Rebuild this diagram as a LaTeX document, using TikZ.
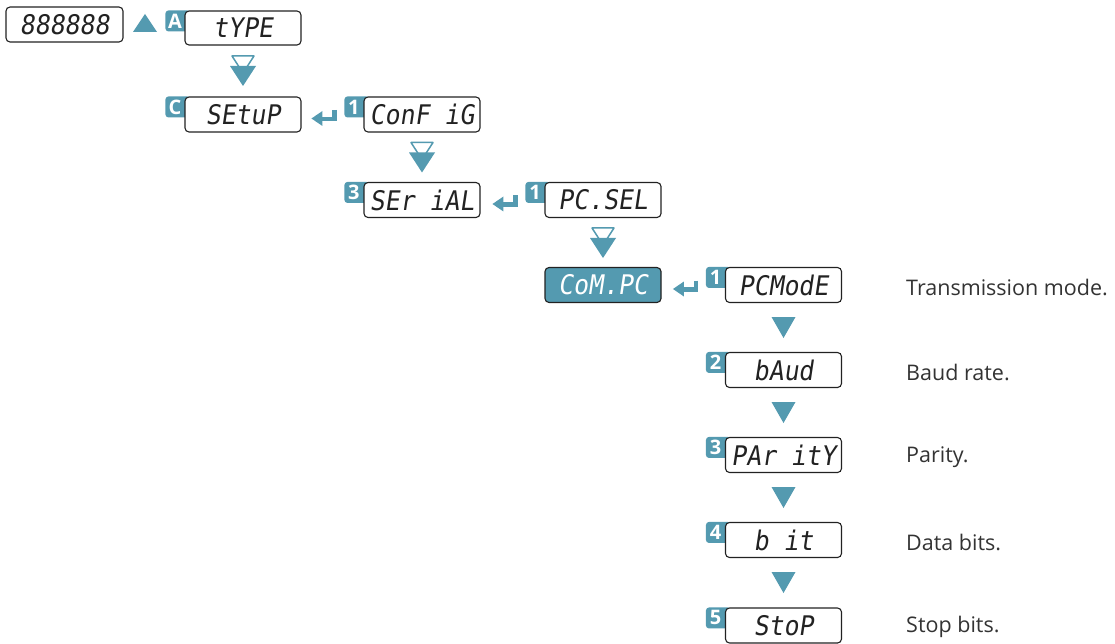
\documentclass[tikz,border=0pt]{standalone}
\usepackage{fontspec}
\setmainfont{Lato}
\newfontfamily\descfont{Open Sans}
\newfontfamily\badgefont{Open Sans}
\newfontfamily\segfont[FakeSlant=0.15,FakeStretch=0.92]{DejaVu Sans Mono}
\usetikzlibrary{calc,backgrounds}
\definecolor{accent}{RGB}{84,154,176}
\definecolor{ink}{RGB}{34,34,34}
\definecolor{lbl}{RGB}{51,51,51}
\newcommand\mybadge[3]{%
  \begin{scope}[on background layer]
    \fill[accent, rounded corners=3pt] ($(#3.north west)+(-19,0)$) rectangle ($(#3.north west)+(6,21)$);
  \end{scope}
  \node[badgetxt] (#1) at ($(#3.north west)+(-9.5,10.5)$) {#2};}
\newcommand\mydbl[1]{%
  \draw[accent, line width=1.5pt, fill=white, line join=round] ($(#1)+(-11,0)$) -- ($(#1)+(11,0)$) -- ($(#1)+(0,17)$) -- cycle;
  \fill[accent] ($(#1)+(-13,10)$) -- ($(#1)+(13,10)$) -- ($(#1)+(0,30)$) -- cycle;}
\newcommand\mytri[1]{%
  \fill[accent] ($(#1)+(-12,0)$) -- ($(#1)+(12,0)$) -- ($(#1)+(0,21)$) -- cycle;}
\newcommand\myret[1]{%
  \draw[accent, line width=4.5pt] ($(#1.west)+(-29,-4.5)$) -- ($(#1.west)+(-29,4.5)$) -- ($(#1.west)+(-44,4.5)$);
  \fill[accent] ($(#1.west)+(-52,4)$) -- ($(#1.west)+(-41,-3.5)$) -- ($(#1.west)+(-41,11.5)$) -- cycle;}
\begin{document}
\begin{tikzpicture}[x=1pt,y=-1pt,
  disp/.style={draw=ink, line width=1.1pt, rounded corners=4pt, fill=white,
    minimum width=116pt, minimum height=35pt, inner sep=0pt, text=ink,
    font=\segfont\fontsize{27}{27}\selectfont},
  dispsel/.style={disp, fill=accent, text=white},
  badgetxt/.style={text=white, inner sep=0pt, font=\badgefont\bfseries\fontsize{20}{20}\selectfont},
  desc/.style={anchor=west, text=lbl, inner sep=0pt, font=\descfont\fontsize{21.5}{21.5}\selectfont}]
\useasboundingbox (0,0) rectangle (1115,644);

\node[disp, minimum width=117pt] (d888) at (64.5,24.5) {888888};
\fill[accent] (145,14) -- (157,32) -- (133,32) -- cycle;
\node[disp, minimum height=34pt] (typ) at (243,28) {tYPE};
\node[disp] (setup) at (243,114.5) {SEtuP};
\node[disp] (config) at (422,114.5) {ConF iG};
\node[disp] (serial) at (422,200) {SEr iAL};
\node[disp] (pcsel) at (603,200) {PC.SEL};
\node[dispsel] (compc) at (603,285) {CoM.PC};
\node[disp] (pcmode) at (783.5,285) {PCModE};
\node[disp] (baud) at (783.5,370) {bAud};
\node[disp] (parity) at (783.5,455) {PAr itY};
\node[disp] (bit) at (783.5,540) {b it};
\node[disp] (stop) at (783.5,625.5) {StoP};

\mybadge{bA}{A}{typ}
\mybadge{bC}{C}{setup}
\mybadge{b1a}{1}{config}
\mybadge{b3a}{3}{serial}
\mybadge{b1b}{1}{pcsel}
\mybadge{b1c}{1}{pcmode}
\mybadge{b2}{2}{baud}
\mybadge{b3}{3}{parity}
\mybadge{b4}{4}{bit}
\mybadge{b5}{5}{stop}

\coordinate (a1) at ($(typ.center)+(0,28)$);
\coordinate (a2) at ($(config.center)+(0,28)$);
\coordinate (a3) at ($(pcsel.center)+(0,28)$);
\mydbl{a1}
\mydbl{a2}
\mydbl{a3}

\coordinate (t1) at ($(pcmode.center)+(0,32)$);
\coordinate (t2) at ($(baud.center)+(0,32)$);
\coordinate (t3) at ($(parity.center)+(0,32)$);
\coordinate (t4) at ($(bit.center)+(0,32)$);
\mytri{t1}
\mytri{t2}
\mytri{t3}
\mytri{t4}

\myret{config}
\myret{pcsel}
\myret{pcmode}

\node[desc] (l1) at (906,287) {Transmission mode.};
\node[desc] (l2) at (906,372) {Baud rate.};
\node[desc] (l3) at (906,457) {Parity.};
\node[desc] (l4) at (906,542) {Data bits.};
\node[desc] (l5) at (906,627) {Stop bits.};
\end{tikzpicture}
\end{document}
